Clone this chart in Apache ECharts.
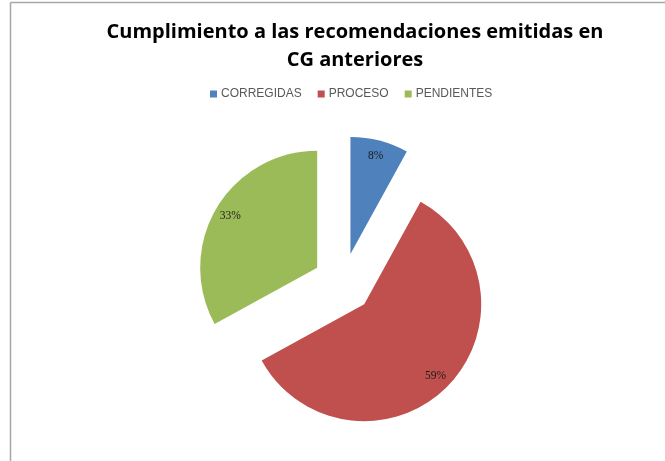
<!DOCTYPE html>
<html>
<head>
<meta charset="utf-8">
<script src="https://cdn.jsdelivr.net/npm/echarts@6/dist/echarts.min.js"></script>
<style>
html,body{margin:0;padding:0;background:#fff;}
#c{width:665px;height:461px;}
</style>
</head>
<body>
<div id="c"></div>
<script>
const titleLines = ['Cumplimiento a las recomendaciones emitidas en', 'CG anteriores'];
const categories = ['CORREGIDAS', 'PROCESO', 'PENDIENTES'];
const values = [8, 59, 33];
const colors = ['#4F81BD', '#C0504D', '#9BBB59'];

const chart = echarts.init(document.getElementById('c'));
const data = categories.map((name, i) => ({ name: name, value: values[i], selected: true }));
const R = 117, center = [343, 283], off = 30;
chart.setOption({
  animation: false,
  color: colors,
  title: {
    text: titleLines.join('\n'),
    left: 350, top: 13, textAlign: 'center',
    textStyle: { fontFamily: 'Open Sans', fontWeight: 'bold', fontSize: 20, lineHeight: 28, color: '#000' }
  },
  legend: {
    data: categories, top: 83, left: 205,
    itemWidth: 7, itemHeight: 7, itemGap: 16, icon: 'rect',
    selectedMode: false,
    textStyle: { fontFamily: 'Liberation Sans', fontSize: 12, color: '#595959', padding: [0, 0, 0, -1] }
  },
  graphic: [
    { type: 'line', shape: { x1: 10.5, y1: 2.5, x2: 665, y2: 2.5 }, style: { stroke: '#a6a6a6', lineWidth: 1.5 } },
    { type: 'line', shape: { x1: 10.5, y1: 2.5, x2: 10.5, y2: 461 }, style: { stroke: '#a6a6a6', lineWidth: 1.5 } }
  ],
  series: [
    {
      type: 'pie', center: center, radius: R, startAngle: 90, clockwise: true,
      selectedMode: 'multiple', selectedOffset: off, silent: true,
      label: { show: false }, labelLine: { show: false },
      data: data
    },
    {
      type: 'pie', center: center, radius: [79, R], startAngle: 90, clockwise: true,
      selectedMode: 'multiple', selectedOffset: off, silent: true,
      itemStyle: { color: 'rgba(0,0,0,0)' },
      label: {
        show: true, position: 'inside', formatter: '{d}%',
        fontFamily: 'Liberation Serif', fontSize: 11.5, color: '#1a1a1a'
      },
      labelLine: { show: false },
      data: data
    }
  ]
});
</script>
</body>
</html>
